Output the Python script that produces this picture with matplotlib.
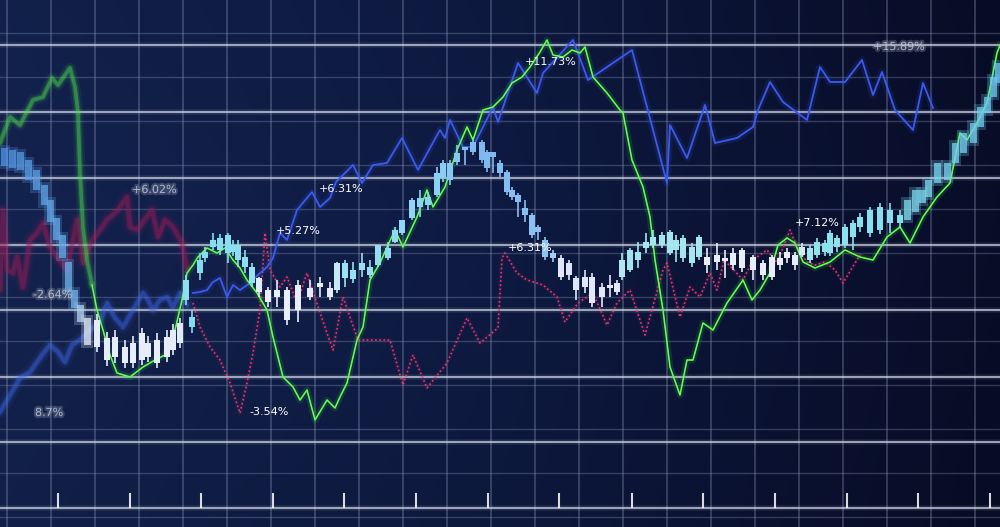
import numpy as np
import matplotlib.pyplot as plt
import matplotlib.patheffects as pe
from matplotlib.colors import LinearSegmentedColormap, to_rgb

# chart space: x = time (0..1000), y = level drawn top-down (0..527)
W, H = 1000, 527

blue_x = [0, 10, 20, 30, 42, 50, 58, 65, 72, 80, 90, 100, 107, 115, 123, 133, 143, 148, 153, 160,
          167, 173, 180, 187, 193, 200, 207, 213, 220, 227, 233, 240, 250, 258, 267, 273, 280, 287,
          297, 312, 320, 330, 336, 353, 362, 373, 387, 402, 418, 430, 440, 445, 450, 463, 473, 493,
          498, 518, 537, 543, 573, 588, 632, 667, 670, 687, 705, 715, 737, 753, 758, 770, 783, 807,
          820, 830, 845, 862, 873, 882, 895, 913, 923, 933]
blue_y = [412, 395, 378, 372, 355, 345, 352, 362, 345, 340, 330, 322, 303, 318, 327, 310, 293, 300, 310, 300,
          297, 307, 293, 305, 293, 292, 290, 282, 278, 297, 285, 290, 283, 275, 267, 258, 233, 240,
          210, 192, 207, 198, 182, 165, 183, 165, 163, 138, 170, 148, 130, 138, 120, 147, 147, 107,
          122, 63, 93, 73, 40, 80, 50, 183, 125, 158, 105, 143, 138, 127, 110, 82, 102, 120,
          67, 82, 82, 60, 95, 72, 110, 130, 83, 108]

green_x = [0, 10, 20, 33, 43, 52, 58, 70, 75, 78, 80, 83, 87, 92, 97, 103, 110, 117, 130, 143,
           155, 165, 175, 182, 187, 193, 198, 207, 217, 225, 233, 240, 247, 257, 267, 273, 283, 293,
           300, 307, 315, 327, 335, 340, 347, 357, 363, 370, 380, 388, 395, 403, 410, 417, 427, 433,
           445, 457, 467, 473, 483, 493, 503, 512, 522, 530, 540, 547, 553, 563, 572, 580, 585, 593,
           607, 620, 623, 632, 643, 650, 655, 663, 670, 680, 687, 693, 703, 713, 727, 743, 752, 760,
           770, 778, 787, 795, 803, 815, 830, 845, 860, 873, 887, 900, 910, 923, 937, 950, 960, 967,
           977, 987, 997, 1000]
green_y = [143, 117, 125, 100, 97, 78, 85, 68, 87, 113, 173, 227, 260, 285, 310, 330, 355, 373, 377, 367,
           360, 355, 330, 300, 273, 265, 257, 248, 253, 248, 260, 268, 280, 293, 310, 337, 377, 387,
           400, 390, 420, 400, 408, 397, 383, 340, 327, 280, 263, 245, 230, 247, 232, 217, 190, 207,
           187, 150, 127, 140, 110, 107, 97, 83, 77, 67, 52, 40, 55, 57, 50, 53, 47, 77,
           93, 110, 113, 160, 187, 217, 260, 310, 367, 395, 360, 360, 323, 330, 303, 280, 300, 290,
           273, 245, 238, 243, 262, 268, 262, 250, 257, 260, 237, 227, 243, 217, 197, 183, 133, 140,
           123, 103, 53, 45]

red_x = [0, 3, 7, 13, 17, 23, 30, 37, 43, 50, 57, 67, 77, 83, 92, 100, 107, 118, 127, 130,
         137, 152, 158, 165, 173, 182, 187, 193, 200, 210, 220, 230, 240, 247, 253, 260, 265, 270,
         280, 287, 297, 307, 320, 333, 343, 358, 390, 403, 413, 427, 447, 467, 480, 498, 502, 505,
         517, 527, 543, 557, 565, 578, 593, 607, 617, 630, 645, 663, 667, 680, 690, 700, 710, 717,
         724, 732, 743, 753, 767, 777, 790, 797, 807, 815, 825, 835, 843, 852, 860]
red_y = [290, 210, 270, 273, 257, 287, 240, 233, 223, 247, 257, 270, 220, 263, 240, 230, 220, 210, 197, 227,
         230, 210, 237, 220, 227, 243, 270, 303, 327, 347, 360, 383, 413, 383, 353, 310, 233, 270,
         287, 277, 303, 273, 313, 350, 297, 340, 340, 385, 355, 388, 363, 318, 343, 328, 258, 253,
         273, 280, 285, 297, 322, 303, 293, 325, 303, 290, 335, 270, 263, 317, 287, 297, 273, 290,
         260, 268, 280, 260, 250, 263, 230, 247, 262, 265, 262, 270, 283, 268, 255]

# candles: position, body top, body bottom, wick top, wick bottom
c_x = [4, 12, 20, 28, 36, 44, 50, 56, 62, 68, 74, 80, 87, 97, 107, 115, 125, 133, 142, 148,
       157, 167, 173, 180, 186, 192, 200, 205, 213, 220, 228, 233, 238, 245, 252, 259, 268, 277,
       287, 298, 310, 320, 330, 337, 345, 353, 362, 370, 378, 388, 395, 402, 412, 420, 428, 437,
       443, 450, 457, 465, 473, 482, 487, 493, 500, 507, 512, 518, 525, 532, 538, 545, 553, 561,
       569, 576, 585, 592, 602, 610, 617, 622, 630, 638, 646, 653, 662, 670, 676, 683, 692, 699,
       707, 717, 725, 733, 742, 753, 763, 772, 780, 787, 795, 802, 810, 817, 825, 830, 837, 845,
       853, 860, 870, 880, 890, 900, 907, 915, 922, 928, 937, 947, 955, 963, 973, 980, 987, 993, 998]
c_top = [148, 150, 152, 160, 170, 185, 200, 218, 235, 262, 290, 305, 318, 320, 338, 337, 347, 343, 333, 343,
         340, 337, 330, 323, 280, 317, 260, 252, 240, 238, 235, 245, 245, 257, 267, 278, 290, 290,
         290, 285, 288, 283, 288, 263, 263, 270, 263, 267, 245, 248, 230, 220, 200, 198, 197, 173,
         163, 163, 153, 147, 142, 142, 152, 152, 163, 172, 190, 195, 208, 215, 227, 240, 253, 258,
         263, 278, 277, 277, 287, 285, 283, 260, 250, 252, 242, 237, 235, 232, 240, 238, 247, 237,
         257, 255, 258, 253, 250, 257, 263, 257, 258, 252, 255, 247, 248, 242, 243, 233, 238, 227,
         223, 217, 210, 207, 210, 215, 200, 190, 190, 180, 163, 163, 143, 133, 123, 107, 97, 77, 63]
c_bot = [166, 168, 170, 180, 190, 205, 222, 240, 258, 292, 308, 322, 345, 347, 360, 357, 363, 363, 360, 357,
         363, 357, 350, 343, 300, 327, 273, 258, 247, 250, 253, 252, 260, 267, 283, 292, 302, 297,
         320, 310, 297, 287, 297, 290, 278, 279, 270, 275, 265, 258, 242, 233, 218, 207, 205, 195,
         178, 180, 162, 150, 152, 160, 168, 157, 173, 192, 197, 202, 215, 235, 232, 257, 258, 277,
         275, 290, 287, 303, 297, 288, 292, 277, 270, 260, 248, 245, 245, 253, 250, 258, 263, 257,
         265, 262, 261, 265, 268, 270, 275, 277, 265, 258, 265, 255, 260, 255, 252, 253, 247, 245,
         237, 227, 233, 230, 223, 223, 220, 212, 203, 197, 183, 180, 163, 153, 143, 127, 113, 97, 83]
c_hi = [144, 146, 148, 156, 166, 181, 196, 214, 231, 258, 286, 300, 314, 314, 332, 330, 340, 336, 328, 336,
        333, 330, 324, 318, 275, 310, 253, 247, 233, 234, 233, 240, 240, 250, 263, 277, 287, 280,
        287, 280, 280, 277, 282, 262, 260, 262, 253, 260, 245, 242, 227, 220, 198, 190, 192, 167,
        160, 160, 145, 147, 140, 140, 150, 152, 160, 170, 187, 193, 200, 213, 225, 237, 250, 255,
        260, 276, 270, 273, 283, 275, 280, 253, 248, 242, 233, 230, 232, 230, 235, 235, 243, 235,
        248, 243, 250, 248, 248, 255, 260, 255, 252, 248, 252, 243, 245, 238, 240, 230, 235, 224,
        220, 213, 207, 203, 203, 210, 196, 186, 186, 176, 159, 159, 139, 129, 119, 103, 93, 73, 59]
c_lo = [170, 172, 174, 184, 194, 209, 226, 244, 262, 296, 312, 326, 350, 352, 366, 363, 368, 368, 365, 362,
        368, 362, 355, 348, 305, 333, 280, 262, 250, 255, 263, 256, 267, 273, 287, 297, 307, 307,
        325, 322, 300, 297, 300, 293, 287, 283, 277, 278, 267, 260, 243, 235, 220, 217, 210, 197,
        182, 185, 165, 165, 155, 163, 172, 173, 177, 195, 200, 217, 222, 238, 240, 260, 262, 280,
        280, 300, 293, 307, 307, 297, 295, 280, 272, 268, 253, 248, 248, 255, 262, 262, 267, 260,
        273, 270, 278, 270, 272, 280, 280, 280, 270, 263, 270, 257, 263, 258, 256, 256, 252, 248,
        250, 232, 237, 234, 233, 228, 224, 216, 208, 201, 187, 185, 167, 157, 147, 131, 117, 101, 87]

labels = ["+6.02%", "+5.27%", "+6.31%", "+11.73%", "+6.31%", "-3.54%", "+7.12%", "+15.89%", "-2.64%", "8.7%"]
label_x = [132, 276, 319, 525, 508, 249, 795, 873, 33, 35]
label_y = [190, 231, 189, 62, 248, 412, 223, 47, 295, 413]
label_blur = [True, False, False, False, False, False, False, True, True, True]

tick_x = [58, 130, 201, 273, 344, 416, 488, 559, 632, 703, 775, 847, 918, 990]

# candle colour band along the time axis
candle_cmap = LinearSegmentedColormap.from_list("candles", [
    (0.00, "#4f8fe0"), (0.07, "#6cb0ec"), (0.085, "#e6ecf8"), (0.18, "#e6ecf8"),
    (0.185, "#7fdcef"), (0.25, "#8ee0f0"), (0.26, "#e8eef8"), (0.335, "#e8eef8"),
    (0.34, "#9ae4f2"), (0.44, "#8ad0f4"), (0.48, "#7eb8f0"), (0.55, "#8ec4f2"),
    (0.56, "#dfe6fa"), (0.62, "#e4e8fa"), (0.625, "#a0e6ee"), (0.70, "#a6e6ee"),
    (0.705, "#e8eef8"), (0.80, "#e8eef8"), (0.815, "#8ee4ec"), (0.90, "#86def0"), (1.00, "#6cc8f0")])


def blurred(ax, x, y, color, lw, z):
    for w, a in [(lw * 6, 0.08), (lw * 3.5, 0.18), (lw * 2, 0.40)]:
        ax.plot(x, y, color=color, lw=w, alpha=a, zorder=z,
                solid_capstyle="round", solid_joinstyle="round")


def glowing(ax, x, y, color, lw, z, core=None):
    ax.plot(x, y, color=color, lw=lw * 4, alpha=0.13, zorder=z, solid_joinstyle="round")
    ax.plot(x, y, color=color, lw=lw, zorder=z + 0.1, solid_joinstyle="round")
    if core is not None:
        ax.plot(x, y, color=core, lw=lw * 0.45, zorder=z + 0.2, solid_joinstyle="round")


def split(x, y, cut):
    x = np.asarray(x, float)
    y = np.asarray(y, float)
    return (x[x <= cut], y[x <= cut]), (x[x >= cut], y[x >= cut])


fig = plt.figure(figsize=(10, 5.27), dpi=100)
ax = fig.add_axes([0, 0, 1, 1])
ax.set_xlim(0, W)
ax.set_ylim(H, 0)
ax.axis("off")

# background gradient
gx = np.linspace(0, 1, 200)
gy = np.linspace(0, 1, 100)
left, mid, right = np.array(to_rgb("#13234f")), np.array(to_rgb("#0e1a42")), np.array(to_rgb("#080d28"))
row = np.where(gx[:, None] < 0.5, left + (mid - left) * (gx[:, None] / 0.5),
               mid + (right - mid) * ((gx[:, None] - 0.5) / 0.5))
shade = 1.0 - 0.15 * np.abs(gy - 0.4)[:, None, None]
bg = np.clip(row[None, :, :] * shade, 0, 1)
ax.imshow(bg, extent=[0, W, H, 0], aspect="auto", zorder=0, interpolation="bilinear")

# grid
for gxp in np.arange(7, W, 44):
    ax.axvline(gxp, color="#8e9abb", lw=1.1, alpha=0.42, zorder=1)
for gyp in np.arange(33, H, 44):
    ax.axhline(gyp, color="#8e9abb", lw=1.0, alpha=0.32, zorder=1)
for gyp in [45, 112, 178, 245, 310, 377, 442, 508]:
    ax.axhline(gyp, color="#cfd6e6", lw=4, alpha=0.10, zorder=1)
    ax.axhline(gyp, color="#d4dae8", lw=1.5, alpha=0.7, zorder=1)

# bottom ticks
ax.vlines(tick_x, 493, 508, color="white", lw=1.5, alpha=0.85, zorder=2)

# crimson series: blurred solid on the left, dotted after
(rbx, rby), (rsx, rsy) = split(red_x, red_y, 190)
blurred(ax, rbx, rby, "#a01c58", 1.6, 2)
ax.plot(rsx, rsy, color="#e8326f", lw=3, alpha=0.08, zorder=2)
ax.plot(rsx, rsy, color="#ea3672", lw=1.2, ls=(0, (1, 1.5)), zorder=2.2)

# blue series
(bbx, bby), (bsx, bsy) = split(blue_x, blue_y, 190)
blurred(ax, bbx, bby, "#3f66e6", 1.5, 3)
glowing(ax, bsx, bsy, "#3b5bf0", 1.3, 3)

# green series
(gbx, gby), (gsx, gsy) = split(green_x, green_y, 92)
blurred(ax, gbx, gby, "#4fe04a", 1.3, 3)
glowing(ax, gsx, gsy, "#3fe83a", 1.2, 3, core="#86ff66")

# candles
for i in range(len(c_x)):
    x = c_x[i]
    col = candle_cmap(x / W)
    blur = x < 90 or x > 900
    if blur:
        ax.bar(x, c_bot[i] - c_top[i] + 6, bottom=c_top[i] - 3, width=12, color=col, alpha=0.25, zorder=4)
        ax.bar(x, c_bot[i] - c_top[i], bottom=c_top[i], width=7, color=col, alpha=0.75, zorder=4)
    else:
        ax.vlines(x, c_hi[i], c_lo[i], color=col, lw=1.2, zorder=4)
        ax.bar(x, c_bot[i] - c_top[i], bottom=c_top[i], width=6, color=col, zorder=4.1)

# percent labels
for s, x, y, b in zip(labels, label_x, label_y, label_blur):
    if b:
        ax.text(x, y, s, color="#c8cedb", fontsize=8, va="center", ha="left", alpha=0.7, zorder=6,
                path_effects=[pe.withStroke(linewidth=3, foreground="#9aa3b8", alpha=0.3)])
    else:
        ax.text(x, y, s, color="white", fontsize=8, va="center", ha="left", zorder=6)

fig.savefig("out.png", dpi=100)
